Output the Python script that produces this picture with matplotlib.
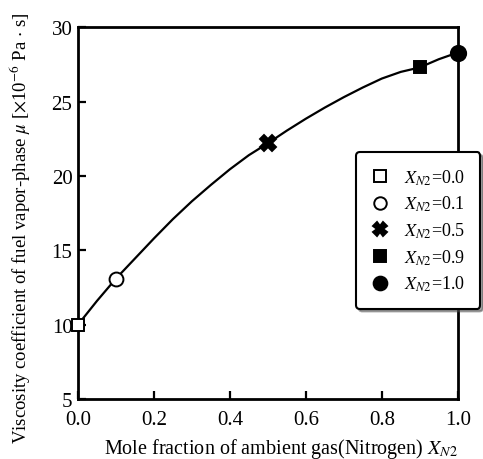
import matplotlib
matplotlib.use("Agg")
import matplotlib.pyplot as plt

plt.rcParams['font.family'] = ['Liberation Serif', 'DejaVu Serif']
plt.rcParams['mathtext.fontset'] = 'stix'

# measured points
x_pts = [0.0, 0.1, 0.5, 0.9, 1.0]
mu_pts = [10.0, 13.1, 22.2, 27.3, 28.3]
labels = ["0.0", "0.1", "0.5", "0.9", "1.0"]

# curve
x_curve = [0.0, 0.05, 0.1, 0.15, 0.2, 0.25, 0.3, 0.35, 0.4, 0.45, 0.5,
           0.55, 0.6, 0.65, 0.7, 0.75, 0.8, 0.85, 0.9, 0.95, 1.0]
mu_curve = [10.0, 11.6, 13.1, 14.45, 15.8, 17.1, 18.3, 19.4, 20.45, 21.4, 22.2,
            23.05, 23.85, 24.6, 25.3, 25.95, 26.55, 27.0, 27.3, 27.85, 28.3]

markers = ['s', 'o', 'X', 's', 'o']
faces = ['white', 'white', 'black', 'black', 'black']
sizes = [9, 10, 11, 9, 11]

fig = plt.figure(figsize=(4.83, 4.60), dpi=100)
ax = fig.add_axes([0.1615, 0.1304, 0.7861, 0.8081])

ax.plot(x_curve, mu_curve, color='black', lw=1.6, zorder=2,
        solid_joinstyle='round')
for xv, yv, m, fc, s, lab in zip(x_pts, mu_pts, markers, faces, sizes, labels):
    ax.plot([xv], [yv], ls='none', marker=m, markersize=s, markerfacecolor=fc,
            markeredgecolor='black', markeredgewidth=1.4, clip_on=False, zorder=3,
            label=r'$X_{\mathit{N2}}$=' + lab)

ax.set_xlim(0, 1.0)
ax.set_ylim(5, 30)
ax.set_xticks([0.0, 0.2, 0.4, 0.6, 0.8, 1.0])
ax.set_xticklabels(["0.0", "0.2", "0.4", "0.6", "0.8", "1.0"])
ax.set_yticks([5, 10, 15, 20, 25, 30])
ax.tick_params(direction='in', length=6, width=1.6, labelsize=15, pad=4,
               top=False, right=False)
ax.tick_params(axis='x', pad=8)
for sp in ax.spines.values():
    sp.set_linewidth(2.0)

ax.set_xlabel(r'Mole fraction of ambient gas(Nitrogen) $X_{\mathit{N2}}$', fontsize=14.5, va='top')
ax.xaxis.set_label_coords(0.534, -0.1)
ax.set_ylabel(r'Viscosity coefficient of fuel vapor-phase $\mu$ [$\times$10$^{-6}$ Pa $\cdot$ s]',
              fontsize=13.5)
ax.yaxis.set_label_coords(-0.118, 0.463)

leg = ax.legend(loc='upper left', bbox_to_anchor=(0.732, 0.6645), fontsize=13,
                fancybox=True, shadow=True, framealpha=1, edgecolor='black',
                handlelength=1.0, handletextpad=0.8, labelspacing=0.4,
                borderpad=0.85, borderaxespad=0, markerscale=0.9)
leg.get_frame().set_linewidth(1.5)

fig.savefig("out.png", dpi=100)
